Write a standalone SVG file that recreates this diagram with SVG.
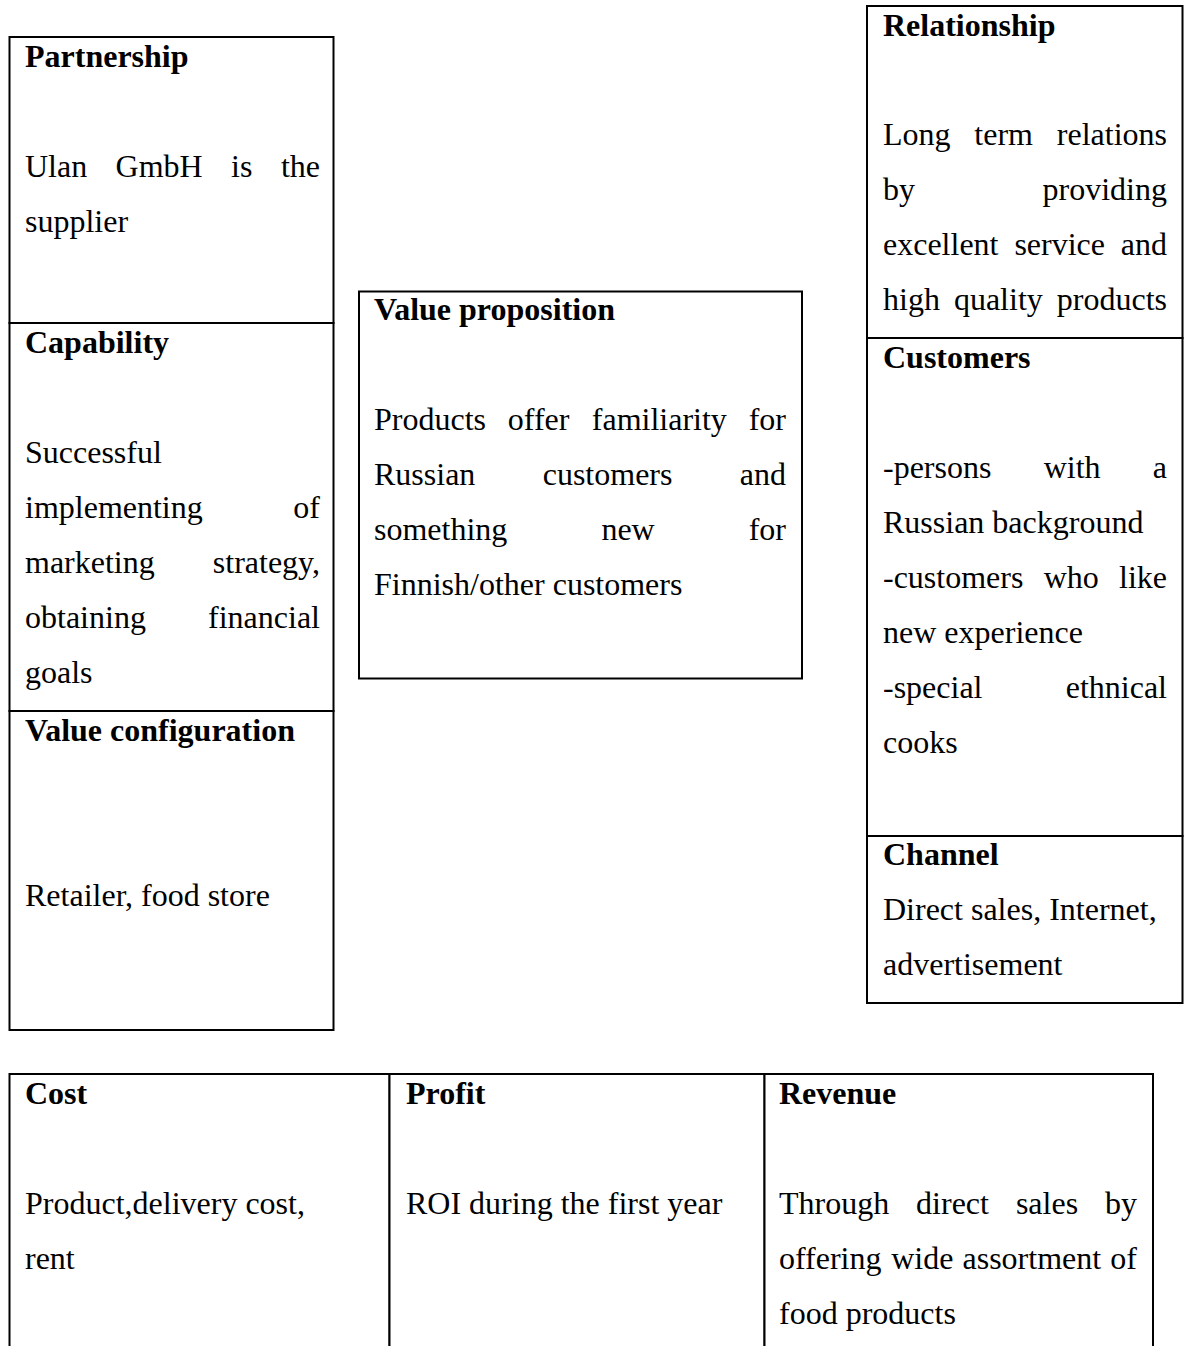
<svg xmlns="http://www.w3.org/2000/svg" width="1187" height="1346" viewBox="0 0 1187 1346">
<style>
  .box { fill: #ffffff; stroke: #000000; stroke-width: 2; }
  text { font-family: "Liberation Serif", "Times New Roman", serif; font-size: 32px; fill: #000000; }
  .h { font-weight: bold; }
  .e { text-anchor: end; }
</style>
<rect x="0" y="0" width="1187" height="1346" fill="#ffffff"/>
<g id="connectors"></g>

<g id="partnership">
  <rect class="box" x="9.5" y="37" width="324" height="286"/>
  <text class="h" x="25" y="67">Partnership</text>
  <text x="25" y="177">Ulan</text><text x="115.6" y="177">GmbH</text><text x="231.1" y="177">is</text><text class="e" x="320" y="177">the</text>
  <text x="25" y="232">supplier</text>
</g>

<g id="capability">
  <rect class="box" x="9.5" y="323" width="324" height="388"/>
  <text class="h" x="25" y="353">Capability</text>
  <text x="25" y="463">Successful</text>
  <text x="25" y="518">implementing</text><text class="e" x="320" y="518">of</text>
  <text x="25" y="573">marketing</text><text class="e" x="320" y="573">strategy,</text>
  <text x="25" y="628">obtaining</text><text class="e" x="320" y="628">financial</text>
  <text x="25" y="683">goals</text>
</g>

<g id="value-configuration">
  <rect class="box" x="9.5" y="711" width="324" height="319"/>
  <text class="h" x="25" y="741">Value configuration</text>
  <text x="25" y="906">Retailer, food store</text>
</g>

<g id="value-proposition">
  <rect class="box" x="359" y="291.5" width="443" height="387"/>
  <text class="h" x="374" y="320">Value proposition</text>
  <text x="374" y="430">Products</text><text x="507.8" y="430">offer</text><text x="591.8" y="430">familiarity</text><text class="e" x="786" y="430">for</text>
  <text x="374" y="485">Russian</text><text x="542.7" y="485">customers</text><text class="e" x="786" y="485">and</text>
  <text x="374" y="540">something</text><text x="601.4" y="540">new</text><text class="e" x="786" y="540">for</text>
  <text x="374" y="595">Finnish/other customers</text>
</g>

<g id="relationship">
  <rect class="box" x="867" y="6" width="315.5" height="332"/>
  <text class="h" x="883" y="36">Relationship</text>
  <text x="883" y="145">Long</text><text x="974.3" y="145">term</text><text class="e" x="1167" y="145">relations</text>
  <text x="883" y="200">by</text><text class="e" x="1167" y="200">providing</text>
  <text x="883" y="255">excellent</text><text x="1014.4" y="255">service</text><text class="e" x="1167" y="255">and</text>
  <text x="883" y="310">high</text><text x="953.9" y="310">quality</text><text class="e" x="1167" y="310">products</text>
</g>

<g id="customers">
  <rect class="box" x="867" y="338" width="315.5" height="498"/>
  <text class="h" x="883" y="368">Customers</text>
  <text x="883" y="478">-persons</text><text x="1043.7" y="478">with</text><text class="e" x="1167" y="478">a</text>
  <text x="883" y="533">Russian background</text>
  <text x="883" y="588">-customers</text><text x="1043.7" y="588">who</text><text class="e" x="1167" y="588">like</text>
  <text x="883" y="643">new experience</text>
  <text x="883" y="698">-special</text><text class="e" x="1167" y="698">ethnical</text>
  <text x="883" y="753">cooks</text>
</g>

<g id="channel">
  <rect class="box" x="867" y="836" width="315.5" height="167"/>
  <text class="h" x="883" y="865">Channel</text>
  <text x="883" y="920">Direct sales, Internet,</text>
  <text x="883" y="975">advertisement</text>
</g>

<g id="cost">
  <rect class="box" x="9.5" y="1074" width="380" height="300"/>
  <text class="h" x="25" y="1104">Cost</text>
  <text x="25" y="1214">Product,delivery cost,</text>
  <text x="25" y="1269">rent</text>
</g>

<g id="profit">
  <rect class="box" x="389.5" y="1074" width="375" height="300"/>
  <text class="h" x="406" y="1104">Profit</text>
  <text x="406" y="1214">ROI during the first year</text>
</g>

<g id="revenue">
  <rect class="box" x="764.5" y="1074" width="388.5" height="300"/>
  <text class="h" x="779" y="1104">Revenue</text>
  <text x="779" y="1214">Through</text><text x="916.1" y="1214">direct</text><text x="1015.9" y="1214">sales</text><text class="e" x="1137" y="1214">by</text>
  <text x="779" y="1269">offering</text><text x="891.2" y="1269">wide</text><text x="962.5" y="1269">assortment</text><text class="e" x="1137" y="1269">of</text>
  <text x="779" y="1324">food products</text>
</g>
</svg>
